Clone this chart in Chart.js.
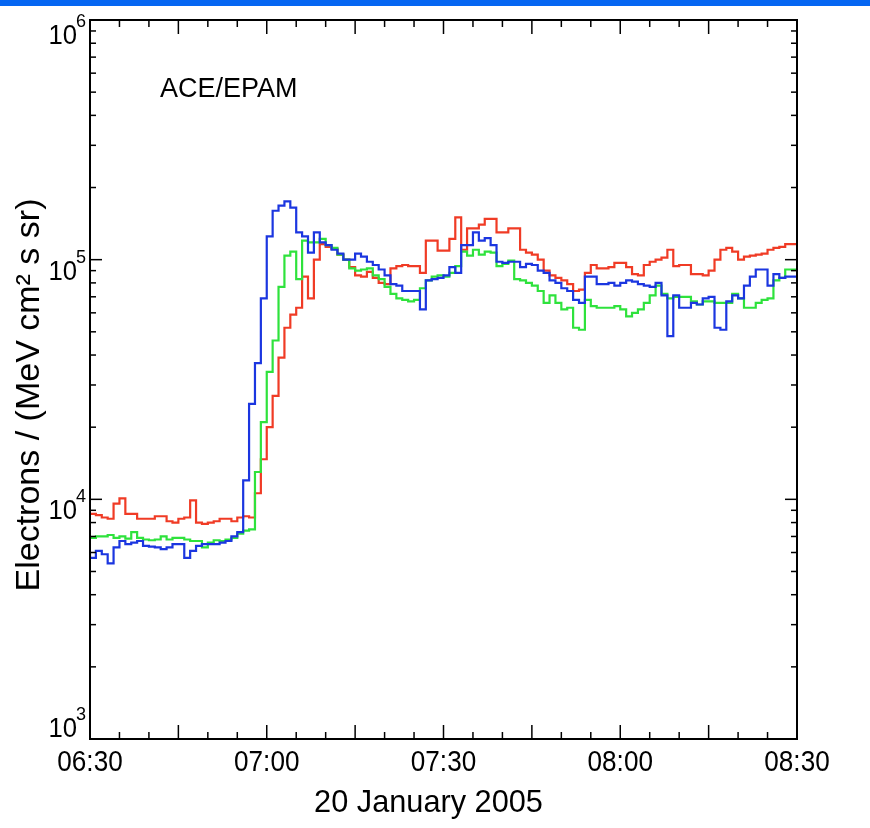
<!DOCTYPE html>
<html>
<head>
<meta charset="utf-8">
<script src="https://cdn.jsdelivr.net/npm/chart.js@4/dist/chart.umd.min.js"></script>
<style>
  body { margin: 0; background: #fff; }
  #wrap { position: relative; width: 870px; height: 828px; }
  #bar { position: absolute; left: 0; top: 0; width: 870px; height: 6px; background: #0566f2; }
</style>
</head>
<body>
<div id="wrap">
  <canvas id="epam" width="870" height="828"></canvas>
  <div id="bar"></div>
</div>
<script>
// 1-minute bins starting at 06:30 (minute 0) up to 08:29
const blue = [
  6000, 5700, 6100, 5900, 5400, 6300, 6700, 6500, 6600, 6700,
  6400, 6350, 6300, 6200, 6300, 6500, 6500, 5700, 6100, 6400,
  6500, 6500, 6500, 6600, 6700, 7000, 7300, 12000, 25000, 37000,
  69000, 125000, 160000, 168000, 175000, 165000, 130000, 125000, 107000, 130000,
  118000, 115000, 110000, 106000, 100000, 100000, 106000, 103000, 98000, 95000,
  91000, 86000, 79000, 78000, 74000, 74000, 74000, 62000, 82000, 83000,
  84000, 86000, 93000, 88000, 115000, 115000, 130000, 120000, 123000, 115000,
  98000, 97000, 98000, 98000, 93000, 96000, 95000, 90000, 88000, 82000,
  80000, 76000, 74000, 68000, 66000, 85000, 85000, 79000, 79000, 80000,
  78000, 80000, 82000, 81000, 79000, 78000, 77000, 80000, 71000, 48000,
  71000, 63000, 63000, 66000, 65000, 69000, 70000, 52000, 51000, 67000,
  71000, 69000, 78000, 85000, 91000, 91000, 78000, 87000, 84000, 85000
];
const green = [
  6900, 6900, 7000, 7000, 7100, 6900, 7000, 6850, 7300, 6900,
  6800, 6750, 6800, 7000, 6800, 6900, 6900, 6800, 6700, 6700,
  6300, 6600, 6750, 6700, 6800, 6900, 7200, 7400, 7500, 13000,
  21000, 34000, 46000, 77000, 104000, 108000, 83000, 120000, 118000, 118000,
  122000, 115000, 112000, 105000, 100000, 92000, 90000, 91000, 92000, 86000,
  83000, 77000, 72000, 69000, 68000, 67000, 68000, 76000, 82000, 85000,
  86000, 85000, 88000, 94000, 108000, 104000, 110000, 105000, 108000, 107000,
  94000, 96000, 99000, 83000, 82000, 80000, 78000, 74000, 66000, 71000,
  66000, 62000, 63000, 52000, 51000, 68000, 64000, 63000, 63000, 63000,
  64000, 62000, 58000, 60000, 62000, 66000, 71000, 78000, 72000, 69000,
  70000, 70000, 70000, 67000, 65000, 67000, 67000, 66000, 66000, 66000,
  72000, 69000, 63000, 63000, 66000, 68000, 69000, 82000, 84000, 91000
];
const red = [
  8700, 8700, 8600, 8400, 8300, 9600, 10100, 8700, 8700, 8300,
  8300, 8300, 8500, 8500, 8100, 8000, 8300, 8400, 9900, 8000,
  7900, 8000, 8100, 8300, 8300, 8100, 8400, 8500, 8400, 10600,
  14700, 20000, 27000, 39000, 52000, 59000, 63000, 85000, 69000, 100000,
  116000, 113000, 111000, 105000, 100000, 93000, 86000, 85000, 89000, 84000,
  80000, 79000, 92000, 94000, 95000, 94000, 94000, 88000, 120000, 120000,
  109000, 109000, 122000, 150000, 110000, 135000, 135000, 140000, 148000, 148000,
  130000, 130000, 135000, 135000, 110000, 107000, 105000, 100000, 90000, 86000,
  84000, 82000, 79000, 74000, 75000, 88000, 95000, 92000, 92000, 93000,
  97000, 97000, 93000, 87000, 86000, 95000, 98000, 100000, 102000, 110000,
  94000, 95000, 95000, 87000, 87000, 86000, 90000, 100000, 110000, 112000,
  108000, 100000, 103000, 104000, 105000, 106000, 110000, 112000, 113000, 116000
];

const xTickMinutes = [0, 30, 60, 90, 120];
const xTickLabels = ['06:30', '07:00', '07:30', '08:00', '08:30'];
const yDecades = [1e3, 1e4, 1e5, 1e6];
const yExponents = ['3', '4', '5', '6'];

const FONT = '"Liberation Sans", Arial, Helvetica, sans-serif';

// step points: bin start minute, plus a closing point at the end of the last bin
function toSteps(vals) {
  const pts = vals.map((v, i) => ({ x: i, y: v }));
  pts.push({ x: vals.length, y: vals[vals.length - 1] });
  return pts;
}

function line(ctx, x1, y1, x2, y2) {
  ctx.beginPath();
  ctx.moveTo(x1, y1);
  ctx.lineTo(x2, y2);
  ctx.stroke();
}

// text squeezed a little horizontally, like the original plot fonts
function text(ctx, s, x, y, size, align, sx) {
  ctx.save();
  ctx.font = size + 'px ' + FONT;
  ctx.textAlign = align;
  ctx.translate(x, y);
  ctx.scale(sx, 1);
  ctx.fillText(s, 0, 0);
  ctx.restore();
}

const idlFrame = {
  id: 'idlFrame',
  afterDraw(chart) {
    const { ctx, chartArea: a, scales: { x, y } } = chart;
    ctx.save();
    ctx.strokeStyle = '#000';
    ctx.fillStyle = '#000';
    ctx.textBaseline = 'alphabetic';

    // inward ticks on x (every 5 min, longer every 15)
    ctx.lineWidth = 1.5;
    for (let m = 5; m < 120; m += 5) {
      const px = x.getPixelForValue(m);
      const len = m % 15 === 0 ? 14 : 7;
      line(ctx, px, a.bottom, px, a.bottom - len);
      line(ctx, px, a.top, px, a.top + len);
    }
    // inward ticks on y (decades long, 2..9 short)
    for (let d = 1e3; d < 1e6; d *= 10) {
      for (let k = 1; k < 10; k++) {
        if (k === 1 && d === 1e3) continue;
        const py = y.getPixelForValue(k * d);
        const len = k === 1 ? 12 : 6;
        line(ctx, a.left, py, a.left + len, py);
        line(ctx, a.right, py, a.right - len, py);
      }
    }

    ctx.lineWidth = 2;
    ctx.strokeRect(a.left, a.top, a.right - a.left, a.bottom - a.top);

    // x tick labels
    xTickMinutes.forEach((m, i) => {
      text(ctx, xTickLabels[i], x.getPixelForValue(m), a.bottom + 32, 29, 'center', 0.9);
    });

    // y tick labels 10^n (end labels pulled inside the axis range)
    yDecades.forEach((v, i) => {
      const py = y.getPixelForValue(v);
      let dy = 20;
      if (i === 0) dy = -2;
      if (i === yDecades.length - 1) dy = 24;
      text(ctx, '10', a.left - 13, py + dy, 27, 'right', 0.95);
      text(ctx, yExponents[i], a.left - 14, py + dy - 17, 19, 'left', 0.95);
    });

    // axis titles
    text(ctx, '20 January 2005', (a.left + a.right) / 2 - 15, a.bottom + 73, 32, 'center', 0.96);

    ctx.save();
    ctx.translate(39, 395);
    ctx.rotate(-Math.PI / 2);
    ctx.font = '34px ' + FONT;
    ctx.textAlign = 'center';
    ctx.fillText('Electrons / (MeV cm\u00b2 s sr)', 0, 0);
    ctx.restore();

    // instrument label
    text(ctx, 'ACE/EPAM', 160, 97, 27, 'left', 1);
    ctx.restore();
  }
};

new Chart(document.getElementById('epam'), {
  type: 'line',
  data: {
    datasets: [
      { label: 'blue', data: toSteps(blue), borderColor: '#1b36e0' },
      { label: 'green', data: toSteps(green), borderColor: '#2ee23c' },
      { label: 'red', data: toSteps(red), borderColor: '#f03b25' }
    ]
  },
  options: {
    responsive: false,
    animation: false,
    devicePixelRatio: 1,
    layout: { padding: { left: 90, right: 73, top: 20, bottom: 89 } },
    elements: {
      line: { borderWidth: 2.2, stepped: 'after', fill: false },
      point: { radius: 0 }
    },
    plugins: { legend: { display: false }, tooltip: { enabled: false } },
    scales: {
      x: { type: 'linear', min: 0, max: 120, display: false },
      y: { type: 'logarithmic', min: 1e3, max: 1e6, display: false }
    }
  },
  plugins: [idlFrame]
});
</script>
</body>
</html>
